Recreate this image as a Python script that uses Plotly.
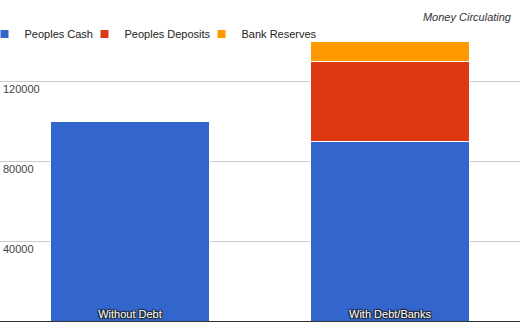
import plotly.graph_objects as go

# Money supply scenarios
categories = ["Without Debt", "With Debt/Banks"]
peoples_cash = [100000, 90000]
peoples_deposits = [0, 40000]
bank_reserves = [0, 10000]

series_names = ["Peoples Cash", "Peoples Deposits", "Bank Reserves"]
series_colors = ["#3366CC", "#DC3912", "#FF9900"]

y_ticks = [0, 40000, 80000, 120000, 160000]
y_tick_text = ["", "40000", "80000", "120000", ""]

FONT = "Liberation Sans, Arial, sans-serif"
W, H = 520, 322

# left edge (px) of each legend entry along the top row
legend_left_px = [-15.5, 84.5, 201.5]
legend_ids = ["legend", "legend2", "legend3"]

fig = go.Figure()
for name, values, color, lid in zip(series_names,
                                     [peoples_cash, peoples_deposits, bank_reserves],
                                     series_colors, legend_ids):
    fig.add_trace(go.Bar(
        x=categories, y=values, name=name, showlegend=False,
        marker=dict(color=color, line=dict(color="white", width=1)),
    ))
    # small square swatch for the legend
    fig.add_trace(go.Scatter(
        x=[None], y=[None], mode="markers", name=name, legend=lid,
        marker=dict(symbol="square", size=8, color=color),
    ))

legend_style = dict(orientation="h", xanchor="left", y=1 - 33 / 320,
                    yanchor="middle", bgcolor="rgba(0,0,0,0)",
                    font=dict(family=FONT, size=11, color="#222"), itemwidth=30)

fig.update_layout(
    width=W, height=H,
    margin=dict(l=0, r=0, t=1, b=1, autoexpand=False),
    paper_bgcolor="white", plot_bgcolor="white",
    barmode="stack", bargap=0.385,
    font=dict(family=FONT, size=11, color="#222"),
    title=dict(text="<i>Money Circulating</i>", x=511 / W, xanchor="right",
               y=1 - 17 / H, yanchor="middle",
               font=dict(family=FONT, size=11, color="#333")),
    legend=dict(x=legend_left_px[0] / W, **legend_style),
    legend2=dict(x=legend_left_px[1] / W, **legend_style),
    legend3=dict(x=legend_left_px[2] / W, **legend_style),
    xaxis=dict(
        range=[-0.5, 1.5], showgrid=False, zeroline=False, automargin=False,
        showline=True, linecolor="#333", linewidth=1,
        ticks="", ticklabelposition="inside",
        tickfont=dict(family=FONT, size=11, color="white",
                      shadow="1px 1px 1px #222, -1px -1px 1px #222, 1px -1px 1px #222, -1px 1px 1px #222"),
    ),
    yaxis=dict(
        range=[0, 160000], tickvals=y_ticks, ticktext=y_tick_text, automargin=False,
        showgrid=True, gridcolor="#cccccc", gridwidth=1, zeroline=False,
        ticks="", ticklabelposition="inside bottom",
        tickfont=dict(family=FONT, size=11, color="#444"),
    ),
)

fig.write_html("out.html")
